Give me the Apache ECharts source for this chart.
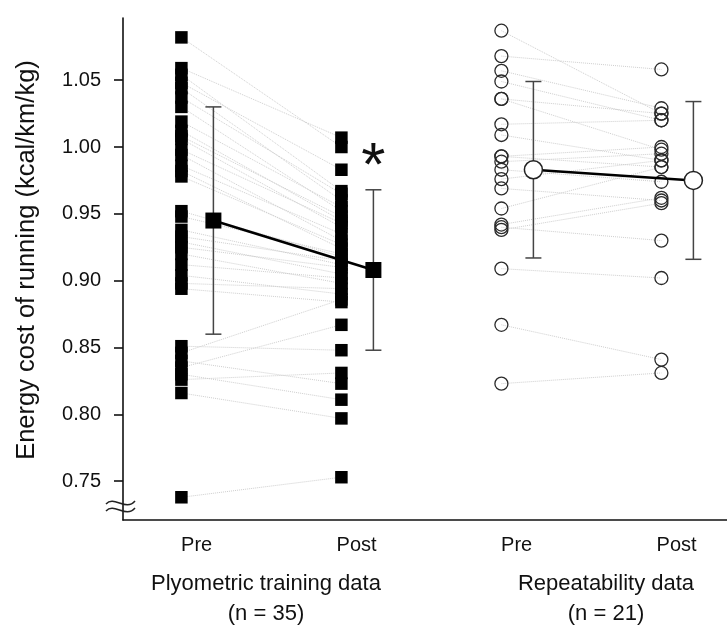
<!DOCTYPE html>
<html>
<head>
<meta charset="utf-8">
<script src="https://cdn.jsdelivr.net/npm/echarts@6/dist/echarts.min.js"></script>
<style>
html,body{margin:0;padding:0;background:#fff;}
#chart{width:727px;height:630px;}
</style>
</head>
<body>
<div id="chart"></div>
<script>
// ---- data ----
const xLabels = ['Pre', 'Post', 'Pre', 'Post'];
const groupTitles = ['Plyometric training data', 'Repeatability data'];
const groupCounts = ['(n = 35)', '(n = 21)'];
const yTicks = [0.75, 0.80, 0.85, 0.90, 0.95, 1.00, 1.05];
const yTitle = 'Energy cost of running (kcal/km/kg)';

// paired individual values (same index = same subject)
const plyoPre = [1.082, 1.059, 1.054, 1.048, 1.044, 1.037, 1.030, 1.019, 1.012, 1.008, 1.006, 0.998, 0.994, 0.986, 0.982, 0.978, 0.952, 0.948, 0.938, 0.933, 0.929, 0.925, 0.920, 0.912, 0.904, 0.898, 0.894, 0.851, 0.846, 0.840, 0.835, 0.830, 0.826, 0.816, 0.738];
const plyoPost = [1.000, 1.007, 0.967, 0.983, 0.960, 0.965, 0.952, 0.955, 0.945, 0.948, 0.940, 0.943, 0.930, 0.935, 0.924, 0.927, 0.918, 0.920, 0.912, 0.915, 0.905, 0.910, 0.898, 0.902, 0.890, 0.894, 0.884, 0.848, 0.886, 0.823, 0.867, 0.811, 0.831, 0.797, 0.753];
const repPre = [1.087, 1.068, 1.057, 1.049, 1.036, 1.036, 1.017, 1.009, 0.993, 0.993, 0.989, 0.983, 0.976, 0.969, 0.954, 0.942, 0.940, 0.938, 0.909, 0.867, 0.823];
const repPost = [1.025, 1.058, 1.029, 1.020, 1.025, 0.998, 1.020, 0.990, 1.000, 0.985, 0.995, 0.974, 0.990, 0.960, 0.985, 0.962, 0.930, 0.958, 0.902, 0.841, 0.831];

// group summaries: mean and SD (plyo pre, plyo post, rep pre, rep post)
const meanValues = [0.945, 0.908, 0.983, 0.975];
const sdValues = [0.085, 0.060, 0.066, 0.059];
const significance = ['', '*', '', ''];

// ---- layout helpers ----
const IND_OFF = 0.365;   // offset of individual marks inside a slot
const MEAN_OFF = 0.565;  // offset of mean marks inside a slot
const LABEL_OFF = 0.46;  // offset of category label inside a slot
const FONT = '"Liberation Sans", Arial, Helvetica, sans-serif';

const chart = echarts.init(document.getElementById('chart'), null, {renderer: 'canvas'});

function pairLines(pre, post, slot) {
  return pre.map((v, i) => ({coords: [[slot + IND_OFF, v], [slot + 1 + IND_OFF, post[i]]]}));
}
const connData = pairLines(plyoPre, plyoPost, 0).concat(pairLines(repPre, repPost, 2));

const errData = meanValues.map((m, i) => [i + MEAN_OFF, m - sdValues[i], m + sdValues[i]]);

const option = {
  animation: false,
  backgroundColor: '#fff',
  grid: {left: 123, right: 0, top: 18, bottom: 110, containLabel: false},
  xAxis: {
    type: 'value', min: 0, max: 3.775,
    axisLine: {show: true, lineStyle: {color: '#111', width: 1.6}},
    axisTick: {show: false},
    splitLine: {show: false},
    axisLabel: {
      customValues: xLabels.map((_, i) => i + LABEL_OFF),
      formatter: v => xLabels[Math.round(v - LABEL_OFF)] || '',
      fontSize: 20, color: '#111', fontFamily: FONT, margin: 15
    }
  },
  yAxis: {
    type: 'value', min: 0.721, max: 1.0965,
    axisLine: {show: true, lineStyle: {color: '#111', width: 1.6}},
    axisTick: {show: true, customValues: yTicks, length: 9, lineStyle: {color: '#111', width: 1.6}},
    splitLine: {show: false},
    axisLabel: {
      customValues: yTicks,
      formatter: v => v.toFixed(2),
      fontSize: 20, color: '#111', fontFamily: FONT, margin: 22
    },
    name: yTitle, nameLocation: 'middle', nameRotate: 90, nameGap: 83,
    nameTextStyle: {fontSize: 25.5, color: '#111', fontFamily: FONT, padding: [0, 0, 0, 18]}
  },
  series: [
    {
      type: 'lines', coordinateSystem: 'cartesian2d', silent: true, z: 1,
      lineStyle: {color: '#cfcfcf', width: 1, type: 'dotted', opacity: 1},
      data: connData
    },
    {
      type: 'scatter', z: 3, symbol: 'rect', symbolSize: 12.5, silent: true,
      itemStyle: {color: '#000', opacity: 1},
      data: plyoPre.map(v => [0 + IND_OFF, v])
    },
    {
      type: 'scatter', z: 3, symbol: 'rect', symbolSize: 12.5, silent: true,
      itemStyle: {color: '#000', opacity: 1},
      data: plyoPost.map(v => [1 + IND_OFF, v])
    },
    {
      type: 'scatter', z: 3, symbol: 'circle', symbolSize: 13, silent: true,
      itemStyle: {color: 'rgba(255,255,255,0)', borderColor: '#2a2a2a', borderWidth: 1.3, opacity: 1},
      data: repPre.map(v => [2 + IND_OFF, v])
    },
    {
      type: 'scatter', z: 3, symbol: 'circle', symbolSize: 13, silent: true,
      itemStyle: {color: 'rgba(255,255,255,0)', borderColor: '#2a2a2a', borderWidth: 1.3, opacity: 1},
      data: repPost.map(v => [3 + IND_OFF, v])
    },
    {
      type: 'custom', z: 4, silent: true,
      data: errData,
      encode: {x: 0, y: [1, 2]},
      renderItem: function (params, api) {
        const x = api.value(0);
        const lo = api.coord([x, api.value(1)]);
        const hi = api.coord([x, api.value(2)]);
        const hw = 8;
        const st = {stroke: '#444', lineWidth: 1.5};
        return {
          type: 'group',
          children: [
            {type: 'line', shape: {x1: lo[0], y1: lo[1], x2: hi[0], y2: hi[1]}, style: st},
            {type: 'line', shape: {x1: lo[0] - hw, y1: lo[1], x2: lo[0] + hw, y2: lo[1]}, style: st},
            {type: 'line', shape: {x1: hi[0] - hw, y1: hi[1], x2: hi[0] + hw, y2: hi[1]}, style: st}
          ]
        };
      }
    },
    {
      type: 'line', z: 6, symbol: 'rect', symbolSize: 16, silent: true,
      lineStyle: {color: '#000', width: 2.5},
      itemStyle: {color: '#000', opacity: 1},
      label: {
        show: true, position: 'top', distance: 63,
        formatter: p => significance[p.dataIndex],
        fontSize: 62, color: '#111', fontFamily: FONT
      },
      data: [[0 + MEAN_OFF, meanValues[0]], [1 + MEAN_OFF, meanValues[1]]]
    },
    {
      type: 'line', z: 6, symbol: 'circle', symbolSize: 18, silent: true,
      lineStyle: {color: '#000', width: 2.5},
      itemStyle: {color: '#fff', borderColor: '#222', borderWidth: 1.5, opacity: 1},
      data: [[2 + MEAN_OFF, meanValues[2]], [3 + MEAN_OFF, meanValues[3]]]
    }
  ],
  graphic: [
    {
      type: 'text', z: 10,
      style: {text: groupTitles[0], x: 266, y: 584, align: 'center', verticalAlign: 'middle', textAlign: 'center', textVerticalAlign: 'middle', fontSize: 22, fontFamily: FONT, fill: '#111'}
    },
    {
      type: 'text', z: 10,
      style: {text: groupCounts[0], x: 266, y: 614, align: 'center', verticalAlign: 'middle', textAlign: 'center', textVerticalAlign: 'middle', fontSize: 22, fontFamily: FONT, fill: '#111'}
    },
    {
      type: 'text', z: 10,
      style: {text: groupTitles[1], x: 606, y: 584, align: 'center', verticalAlign: 'middle', textAlign: 'center', textVerticalAlign: 'middle', fontSize: 22, fontFamily: FONT, fill: '#111'}
    },
    {
      type: 'text', z: 10,
      style: {text: groupCounts[1], x: 606, y: 614, align: 'center', verticalAlign: 'middle', textAlign: 'center', textVerticalAlign: 'middle', fontSize: 22, fontFamily: FONT, fill: '#111'}
    },
    {
      type: 'bezierCurve', z: 10,
      shape: {x1: 106, y1: 504, cpx1: 114, cpy1: 495, cpx2: 126, cpy2: 512, x2: 135, y2: 501},
      style: {stroke: '#222', lineWidth: 1.5, fill: null}
    },
    {
      type: 'bezierCurve', z: 10,
      shape: {x1: 106, y1: 511, cpx1: 114, cpy1: 502, cpx2: 126, cpy2: 519, x2: 135, y2: 508},
      style: {stroke: '#222', lineWidth: 1.5, fill: null}
    }
  ]
};
chart.setOption(option);
</script>
</body>
</html>
